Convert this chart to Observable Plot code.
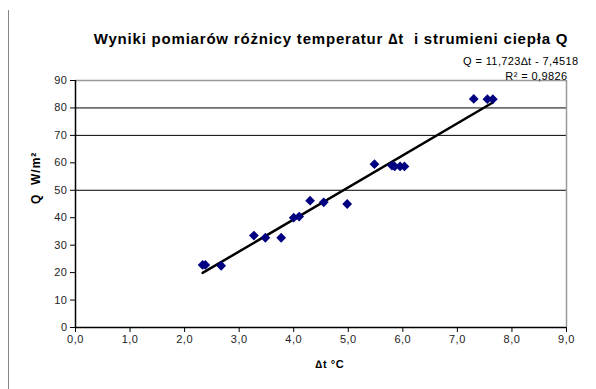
<!DOCTYPE html>
<html>
<head>
<meta charset="utf-8">
<script src="https://cdn.jsdelivr.net/npm/d3@7"></script>
<script src="https://cdn.jsdelivr.net/npm/@observablehq/plot@0.6"></script>
<style>
  html, body { margin: 0; padding: 0; background: #fff; }
  #wrap { position: relative; width: 596px; height: 389px; overflow: hidden; }
  #edge { position: absolute; left: 8px; top: 10px; width: 0; height: 379px; border-left: 1px solid #888; }
  #chart { position: absolute; left: 0; top: 0; }
</style>
</head>
<body>
<div id="wrap"><div id="chart"></div><div id="edge"></div></div>
<script>
const title = "Wyniki pomiarów różnicy temperatur \u2206t\u00a0 i strumieni ciepła Q";
const equation = "Q = 11,723\u2206t - 7,4518";
const rSquared = "R\u00b2 = 0,9826";
const xLabel = "\u2206t \u00b0C";
const yLabel = "Q\u00a0\u00a0W/m\u00b2";

const dt = [2.33, 2.38, 2.67, 3.27, 3.48, 3.77, 4.00, 4.10, 4.30, 4.55, 4.98, 5.48, 5.80, 5.85, 5.95, 6.03, 7.30, 7.55, 7.65];
const q  = [22.8, 22.8, 22.5, 33.5, 32.7, 32.7, 40.0, 40.4, 46.2, 45.6, 45.0, 59.5, 59.0, 58.7, 58.7, 58.7, 83.3, 83.2, 83.2];

const xTicks = [0, 1, 2, 3, 4, 5, 6, 7, 8, 9];
const yTicks = [0, 10, 20, 30, 40, 50, 60, 70, 80, 90];
const gridY = [50, 70, 80];

const points = dt.map((d, i) => ({dt: d, q: q[i]}));
const font = "'Liberation Sans', Arial, sans-serif";

const chart = Plot.plot({
  width: 596,
  height: 389,
  marginLeft: 75,
  marginRight: 30,
  marginTop: 80,
  marginBottom: 62,
  style: {fontFamily: font, fontSize: "11px", color: "#222", background: "#fff"},
  x: {domain: [0, 9]},
  y: {domain: [0, 90]},
  marks: [
    Plot.ruleY(gridY, {stroke: "#000", strokeWidth: 1}),
    Plot.ruleY([90], {stroke: "#999", strokeWidth: 1.5}),
    Plot.ruleX([9], {stroke: "#999", strokeWidth: 1.5}),
    Plot.axisX({ticks: xTicks, tickSize: 5, tickPadding: 3, tickFormat: d => d.toFixed(1).replace(".", ","), label: null, stroke: "#000", fontSize: 11}),
    Plot.axisY({ticks: yTicks, tickSize: 5, tickPadding: 3, label: null, stroke: "#000", fontSize: 11}),
    Plot.ruleY([0], {stroke: "#000", strokeWidth: 1.5}),
    Plot.ruleX([0], {stroke: "#000", strokeWidth: 1.5}),
    Plot.linearRegressionY(points, {x: "dt", y: "q", ci: 0, stroke: "#000", strokeWidth: 2.5}),
    Plot.dot(points, {x: "dt", y: "q", symbol: "diamond2", r: 4.4, fill: "#000080", stroke: "none"}),
    Plot.text([title], {text: d => d, frameAnchor: "top", dx: 10, dy: -47, fontWeight: "bold", fontSize: 15, fill: "#000"}),
    Plot.text([equation], {text: d => d, frameAnchor: "top-right", textAnchor: "end", dx: 12, dy: -23, fontSize: 11, fill: "#000"}),
    Plot.text([rSquared], {text: d => d, frameAnchor: "top-right", textAnchor: "end", dx: 1, dy: -8, fontSize: 11, fill: "#000"}),
    Plot.text([yLabel], {text: d => d, frameAnchor: "left", dx: -39, rotate: -90, fontWeight: "bold", fontSize: 12, fill: "#000"}),
    Plot.text([xLabel], {text: d => d, frameAnchor: "bottom", dx: 9, dy: 40, fontWeight: "bold", fontSize: 11, fill: "#000"})
  ]
});
const svg = d3.select(chart);
svg.selectAll("text").each(function() {
  const t = this.textContent;
  const s = d3.select(this);
  if (t === title) s.style("letter-spacing", "0.8px");
  else if (t === equation || t === rSquared) s.style("letter-spacing", "0.4px");
  else if (t === yLabel) s.style("letter-spacing", "1px");
  else if (t === xLabel) s.style("letter-spacing", "0.6px");
  else s.style("letter-spacing", "0.5px");
});
document.getElementById("chart").appendChild(chart);
</script>
</body>
</html>
